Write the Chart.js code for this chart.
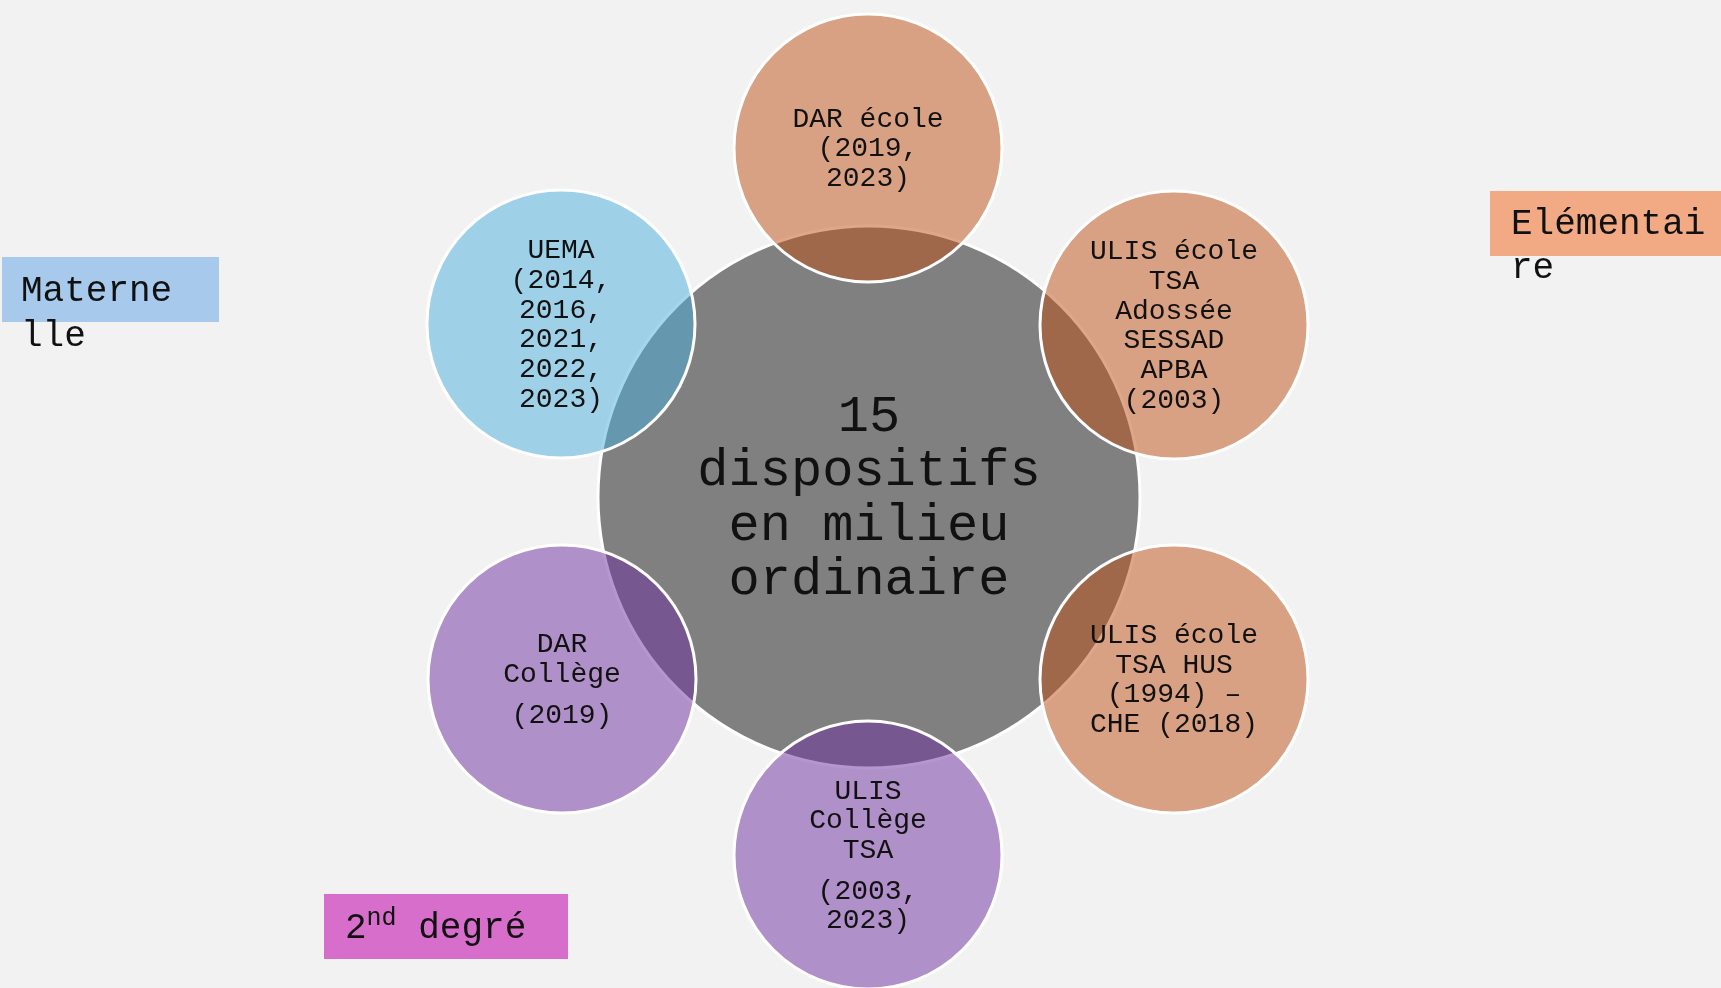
<!DOCTYPE html>
<html>
<head>
<meta charset="utf-8">
<script src="https://cdn.jsdelivr.net/npm/chart.js@4"></script>
<style>
  html, body { margin: 0; padding: 0; background: #f2f2f2; overflow: hidden; }
  canvas { display: block; }
</style>
</head>
<body>
<canvas id="diagram" width="1721" height="988"></canvas>
<script>
// one bubble per "dispositif" group, index 0 is the centre
const nodeLabels = [
  [['15', 'dispositifs', 'en milieu', 'ordinaire']],
  [['DAR école', '(2019,', '2023)']],
  [['ULIS école', 'TSA', 'Adossée', 'SESSAD', 'APBA', '(2003)']],
  [['ULIS école', 'TSA HUS', '(1994) –', 'CHE (2018)']],
  [['ULIS', 'Collège', 'TSA'], ['(2003,', '2023)']],
  [['DAR', 'Collège'], ['(2019)']],
  [['UEMA', '(2014,', '2016,', '2021,', '2022,', '2023)']]
];
const nodeX = [869, 868, 1174, 1174, 868, 562, 561];
const nodeY = [497, 148, 325, 679, 855, 679, 324];
const nodeR = [271, 134, 134, 134, 134, 134, 134];
const nodeGroup = ['centre', 'elementaire', 'elementaire', 'elementaire', 'second', 'second', 'maternelle'];

const groupLabels = ['Maternelle', 'Elémentaire', '2nd degré'];

const fills = {
  centre: '#808080',
  elementaire: 'rgba(192, 80, 20, 0.5)',
  second: 'rgba(110, 46, 158, 0.5)',
  maternelle: 'rgba(74, 174, 222, 0.5)'
};

const FONT = '"Liberation Mono", "Courier New", monospace';

const drawBoxes = {
  id: 'groupBoxes',
  beforeDatasetsDraw(chart) {
    const ctx = chart.ctx;
    ctx.save();
    ctx.textBaseline = 'alphabetic';
    ctx.textAlign = 'left';
    ctx.font = '36px ' + FONT;

    // Maternelle (wraps in its box)
    ctx.fillStyle = '#a6c9ec';
    ctx.fillRect(2, 257, 217, 65);
    ctx.fillStyle = '#111';
    ctx.fillText(groupLabels[0].slice(0, 7), 21, 301);
    ctx.fillText(groupLabels[0].slice(7), 21, 346);

    // Elémentaire
    ctx.fillStyle = '#f2aa84';
    ctx.fillRect(1490, 191, 231, 65);
    ctx.fillStyle = '#111';
    ctx.fillText(groupLabels[1].slice(0, 9), 1511, 234);
    ctx.fillText(groupLabels[1].slice(9), 1511, 278);

    // 2nd degré with superscript
    ctx.fillStyle = '#d86ecc';
    ctx.fillRect(324, 894, 244, 65);
    ctx.fillStyle = '#111';
    let x = 345;
    ctx.fillText('2', x, 938);
    x += ctx.measureText('2').width;
    ctx.font = '25px ' + FONT;
    ctx.fillText('nd', x, 925);
    x += ctx.measureText('nd').width;
    ctx.font = '36px ' + FONT;
    ctx.fillText(' degré', x, 938);
    ctx.restore();
  }
};

const drawTexts = {
  id: 'bubbleTexts',
  afterDatasetsDraw(chart) {
    const ctx = chart.ctx;
    const meta = chart.getDatasetMeta(0);
    ctx.save();
    ctx.textAlign = 'center';
    ctx.textBaseline = 'alphabetic';
    ctx.fillStyle = '#111';
    meta.data.forEach((el, i) => {
      const fs = i === 0 ? 52 : 28;
      const lh = i === 0 ? 54.5 : 29.7;
      const gap = 11;
      const paras = nodeLabels[i];
      const n = paras.reduce((s, p) => s + p.length, 0);
      const h = (n - 1) * lh + (paras.length - 1) * gap;
      let y = el.y - h / 2 + 0.3 * fs;
      ctx.font = fs + 'px ' + FONT;
      paras.forEach((p, pi) => {
        if (pi > 0) y += gap;
        p.forEach(line => {
          ctx.fillText(line, el.x, y);
          y += lh;
        });
      });
    });
    ctx.restore();
  }
};

const ctx = document.getElementById('diagram').getContext('2d');

new Chart(ctx, {
  type: 'bubble',
  data: {
    datasets: [{
      data: nodeX.map((x, i) => ({ x: x, y: nodeY[i], r: nodeR[i] })),
      backgroundColor: nodeGroup.map(g => fills[g]),
      borderColor: '#ffffff',
      borderWidth: 3,
      hoverBorderWidth: 3,
      clip: false
    }]
  },
  options: {
    responsive: false,
    animation: false,
    events: [],
    layout: { padding: 0, autoPadding: false },
    plugins: {
      legend: { display: false },
      tooltip: { enabled: false }
    },
    scales: {
      x: { type: 'linear', min: 0, max: 1721, display: false },
      y: { type: 'linear', min: 0, max: 988, reverse: true, display: false }
    }
  },
  plugins: [drawBoxes, drawTexts]
});
</script>
</body>
</html>
